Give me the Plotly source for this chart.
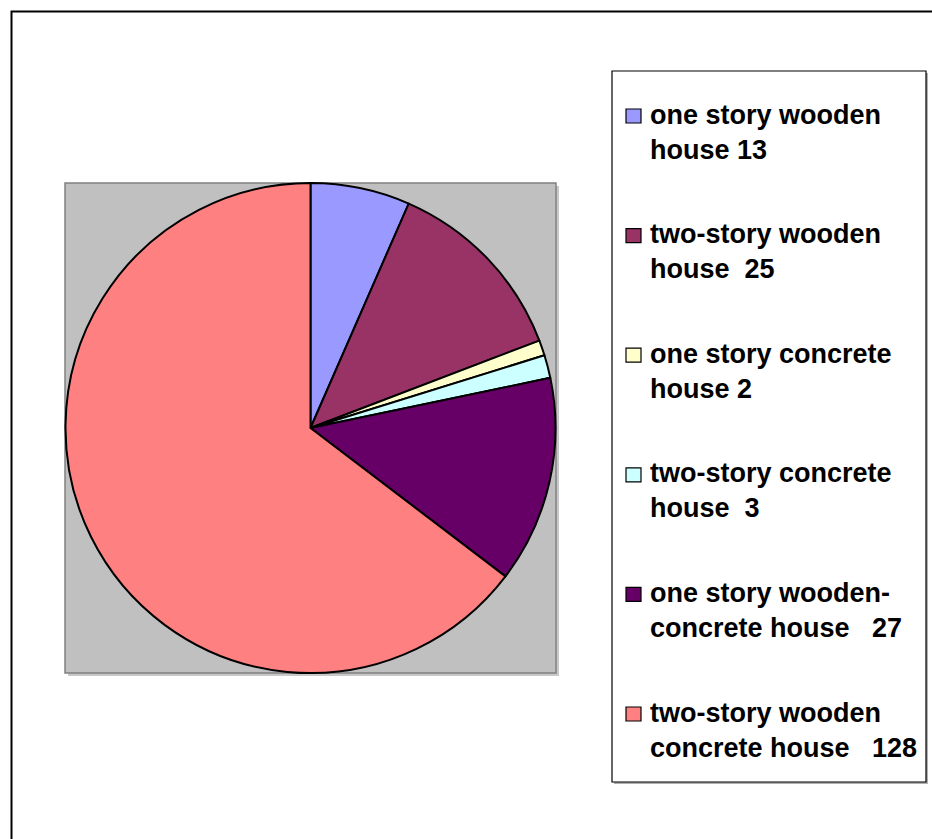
import plotly.graph_objects as go

# Housing types and counts
first_lines = ["one story wooden", "two-story wooden", "one story concrete",
               "two-story concrete", "one story wooden-", "two-story wooden"]
second_lines = ["house", "house", "house", "house", "concrete house", "concrete house"]
counts = [13, 25, 2, 3, 27, 128]
colors = ["#9999FF", "#993366", "#FFFFCC", "#CCFFFF", "#660066", "#FF8080"]
label_gaps = [1, 2, 1, 2, 3, 3]

W, H = 932, 839


def px(x):
    return x / W


def py(y):
    return 1 - y / H


# plot area (grey box) in pixels
PL, PT, PR, PB = 65, 183, 556, 673

fig = go.Figure()
fig.add_trace(go.Pie(
    labels=[f"{a} {b}" for a, b in zip(first_lines, second_lines)],
    values=counts,
    sort=False,
    direction="clockwise",
    rotation=0,
    marker=dict(colors=colors, line=dict(color="black", width=2)),
    textinfo="none",
    hoverinfo="label+value",
    showlegend=False,
    domain=dict(x=[px(PL), px(PR)], y=[py(PB), py(PT)]),
))

shapes = [
    # outer chart border
    dict(type="rect", xref="paper", yref="paper", x0=px(11.5), y0=py(11.5),
         x1=px(960), y1=py(870), line=dict(color="black", width=2),
         fillcolor="rgba(0,0,0,0)", layer="below"),
    # plot-area shadow and grey background
    dict(type="rect", xref="paper", yref="paper", x0=px(PL + 3), y0=py(PB + 3),
         x1=px(PR + 3), y1=py(PT + 3), line=dict(width=0), fillcolor="#C8C8C8",
         layer="below"),
    dict(type="rect", xref="paper", yref="paper", x0=px(PL), y0=py(PB),
         x1=px(PR), y1=py(PT), line=dict(color="#808080", width=1.5),
         fillcolor="#C0C0C0", layer="below"),
    # legend box with shadow
    dict(type="rect", xref="paper", yref="paper", x0=px(614), y0=py(784),
         x1=px(928), y1=py(73), line=dict(width=0), fillcolor="#B0B0B0",
         layer="below"),
    dict(type="rect", xref="paper", yref="paper", x0=px(612), y0=py(782),
         x1=px(926), y1=py(71), line=dict(color="black", width=1.2),
         fillcolor="white", layer="below"),
]

annotations = []
first_baseline = 124
step = 119.6
font = dict(family="Arial, Liberation Sans, sans-serif", size=27, color="black",
            weight="bold")
for i, (a, b, v, c, g) in enumerate(zip(first_lines, second_lines, counts, colors,
                                          label_gaps)):
    base = first_baseline + i * step
    # legend key square
    shapes.append(dict(type="rect", xref="paper", yref="paper",
                       x0=px(626), x1=px(641), y0=py(base - 1), y1=py(base - 15),
                       fillcolor=c, line=dict(color="black", width=1.2)))
    text = f"{a}<br>{b}{chr(160) * g}{v}"
    annotations.append(dict(xref="paper", yref="paper", x=px(648),
                            y=py(base + 8), xanchor="left", yanchor="middle",
                            text=text, showarrow=False, align="left", font=font))

fig.update_layout(
    width=W, height=H,
    margin=dict(l=0, r=0, t=0, b=0),
    paper_bgcolor="white",
    plot_bgcolor="white",
    shapes=shapes,
    annotations=annotations,
    showlegend=False,
)

fig.write_html("out.html")
